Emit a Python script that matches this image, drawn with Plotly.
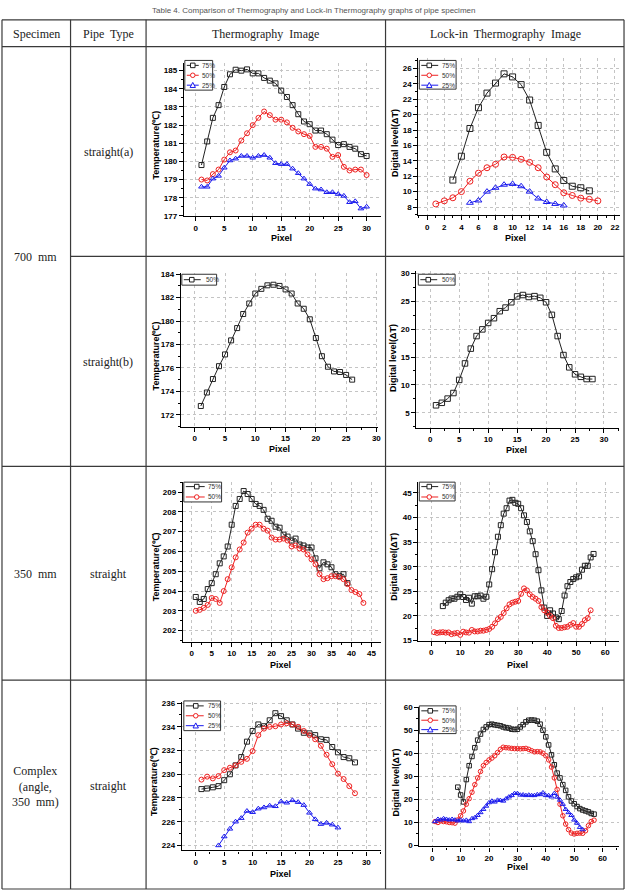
import plotly.graph_objects as go

W, H = 631, 896

# ---------------- data ----------------
# 700 mm straight(a) - thermography (temperature, deg C)
a_th_x75 = list(range(1, 31))
a_th_75 = [179.8, 181.1, 182.4, 183.1, 184.1, 184.8, 185.05, 185.0, 185.07, 184.85, 184.85, 184.6, 184.45, 184.3,
           183.9, 183.55, 183.1, 182.6, 182.2, 182.05, 181.7, 181.7, 181.5, 181.2, 180.9, 180.95, 180.8, 180.7,
           180.4, 180.3]
a_th_x50 = list(range(1, 31))
a_th_50 = [179.0, 178.95, 179.3, 179.55, 180.1, 180.5, 180.6, 181.15, 181.55, 182.0, 182.4, 182.75, 182.55, 182.3,
           182.3, 182.15, 181.85, 181.65, 181.5, 181.4, 180.8, 180.8, 180.7, 180.25, 180.35, 179.7, 179.5, 179.55,
           179.55, 179.25]
a_th_x25 = list(range(1, 31))
a_th_25 = [178.6, 178.6, 179.05, 179.2, 179.65, 180.05, 180.15, 180.3, 180.3, 180.2, 180.3, 180.35, 180.2, 179.9,
           179.85, 179.85, 179.6, 179.35, 179.05, 178.75, 178.5, 178.45, 178.3, 178.3, 178.2, 178.1, 177.75, 177.8,
           177.4, 177.5]

# 700 mm straight(a) - lock-in (digital level)
a_li_x75 = list(range(3, 20))
a_li_75 = [11.5, 14.6, 18.2, 20.9, 22.8, 24.1, 25.3, 24.9, 23.9, 21.9, 18.6, 15.1, 12.95, 11.45, 10.7, 10.5, 10.1]
a_li_x50 = list(range(1, 21))
a_li_50 = [8.4, 8.8, 9.2, 10.0, 11.35, 12.4, 13.1, 13.55, 14.5, 14.45, 14.2, 13.8, 13.1, 11.9, 10.9, 9.85, 9.5,
           9.15, 9.0, 8.8]
a_li_x25 = list(range(5, 17))
a_li_25 = [8.55, 8.85, 10.0, 10.5, 10.9, 11.0, 10.7, 10.0, 9.1, 8.65, 8.4, 8.2]

# 700 mm straight(b)
b_th_x50 = list(range(1, 27))
b_th_50 = [172.75, 173.9, 175.05, 176.15, 177.15, 178.35, 179.4, 180.6, 181.5, 182.35, 182.75, 183.05, 183.1,
           183.0, 182.7, 182.35, 181.5, 181.05, 180.15, 178.55, 177.0, 176.1, 175.7, 175.65, 175.4, 175.0]
b_li_x50 = list(range(1, 29))
b_li_50 = [6.35, 6.8, 7.55, 8.55, 10.9, 13.85, 16.5, 18.75, 19.95, 21.1, 21.95, 23.2, 23.85, 24.8, 25.85, 26.1,
           25.75, 25.9, 25.6, 24.8, 22.55, 18.75, 15.35, 13.15, 11.9, 11.45, 11.05, 11.05]

# 350 mm straight
m_th_x75 = list(range(1, 40))
m_th_75 = [203.7, 203.45, 203.6, 204.1, 204.4, 204.85, 205.4, 205.75, 206.25, 207.35, 208.3, 208.65, 209.05, 208.9,
           208.65, 208.4, 208.3, 208.1, 207.65, 207.55, 207.25, 207.2, 206.85, 206.75, 206.55, 206.65, 206.35,
           206.3, 206.2, 206.2, 205.65, 205.15, 205.45, 205.35, 205.2, 204.85, 204.75, 204.85, 204.4]
m_th_x50 = list(range(1, 44))
m_th_50 = [203.0, 203.05, 203.15, 203.3, 203.65, 203.6, 203.4, 204.0, 204.6, 205.2, 205.7, 206.1, 206.45, 206.95,
           207.15, 207.35, 207.35, 207.15, 207.05, 206.7, 206.6, 206.6, 206.65, 206.55, 206.25, 206.3, 206.15,
           206.1, 205.85, 205.6, 205.35, 204.85, 204.6, 204.65, 204.75, 204.75, 204.7, 204.6, 204.35, 204.05,
           203.95, 203.85, 203.4]
m_li_x75 = list(range(4, 57))
m_li_75 = [22.0, 22.7, 23.2, 23.55, 23.5, 23.9, 24.4, 23.85, 23.25, 23.7, 22.5, 24.0, 24.0, 24.15, 23.5, 23.9,
           26.4, 29.5, 32.95, 36.1, 38.45, 40.8, 41.9, 43.45, 43.6, 43.0, 42.8, 41.9, 40.45, 39.1, 37.2, 35.2,
           32.55, 29.3, 25.2, 21.7, 20.0, 21.15, 20.5, 19.7, 19.35, 21.0, 24.15, 26.05, 26.9, 27.5, 27.85, 28.05,
           29.4, 30.2, 30.2, 31.9, 32.6]
m_li_x50 = list(range(1, 56))
m_li_50 = [16.7, 16.55, 16.65, 16.7, 16.6, 16.65, 16.3, 16.45, 16.55, 16.15, 16.8, 16.65, 16.6, 17.15, 16.85,
           16.85, 17.0, 17.0, 17.15, 17.35, 17.8, 18.5, 19.35, 19.8, 20.6, 21.55, 22.35, 22.7, 22.9, 23.05, 24.5,
           25.6, 25.2, 24.4, 23.85, 23.5, 23.05, 21.8, 21.15, 20.7, 20.0, 19.55, 18.0, 17.55, 17.55, 17.7, 17.8,
           18.2, 18.55, 17.8, 17.8, 18.35, 19.15, 19.55, 21.15]

# Complex (angle, 350 mm)
c_th_x75 = list(range(1, 29))
c_th_75 = [228.75, 228.8, 228.9, 229.0, 229.5, 230.0, 230.75, 231.45, 232.75, 233.65, 234.2, 234.05, 234.55,
           235.15, 234.9, 234.55, 234.2, 233.85, 233.5, 233.45, 233.3, 232.95, 232.9, 232.3, 231.85, 231.45,
           231.35, 231.0]
c_th_x50 = list(range(1, 29))
c_th_50 = [229.55, 229.8, 229.65, 229.85, 230.35, 230.55, 230.75, 231.05, 231.3, 231.95, 233.3, 233.85, 234.0,
           234.05, 234.2, 234.3, 234.2, 234.0, 233.65, 233.3, 232.95, 232.4, 231.65, 230.85, 230.05, 229.6, 229.0,
           228.4]
c_th_x25 = list(range(4, 26))
c_th_25 = [224.0, 224.75, 225.4, 226.0, 226.3, 226.9, 226.8, 227.1, 227.2, 227.35, 227.3, 227.7, 227.6, 227.8,
           227.65, 227.4, 226.75, 226.2, 225.8, 225.9, 225.75, 225.5]
c_li_x75 = list(range(9, 58))
c_li_75 = [25.3, 21.9, 18.9, 28.6, 34.6, 38.6, 42.4, 45.7, 48.3, 50.3, 51.4, 52.4, 52.6, 52.3, 52.1, 51.9, 51.4,
           51.1, 50.9, 50.4, 50.3, 50.4, 51.4, 52.4, 53.6, 54.3, 54.4, 54.3, 53.9, 52.6, 50.0, 47.1, 43.6, 39.3,
           35.0, 31.4, 29.3, 26.4, 23.9, 21.1, 19.3, 18.1, 16.9, 16.0, 15.4, 15.0, 14.6, 13.9, 13.6]
c_li_x50 = list(range(1, 58))
c_li_50 = [10.4, 10.0, 10.7, 10.4, 10.3, 10.0, 9.9, 9.7, 11.1, 12.9, 15.0, 17.9, 20.3, 23.1, 26.4, 29.3, 32.1,
           34.6, 36.0, 37.1, 37.9, 38.9, 40.3, 41.7, 42.6, 42.4, 42.3, 42.1, 42.0, 42.0, 41.9, 42.0, 42.1, 41.7,
           41.1, 40.6, 40.7, 40.6, 40.0, 38.9, 37.1, 34.0, 29.3, 24.3, 17.9, 12.9, 9.3, 6.9, 5.4, 5.0, 5.3, 5.4,
           5.3, 6.4, 8.6, 10.4, 11.0]
c_li_x25 = list(range(1, 54))
c_li_25 = [10.4, 11.4, 11.1, 11.7, 11.4, 11.1, 11.4, 11.1, 10.7, 11.0, 10.7, 11.0, 10.4, 11.7, 12.1, 13.1, 14.3,
           15.7, 17.1, 18.6, 19.3, 18.9, 19.7, 19.6, 19.3, 20.3, 21.1, 21.7, 22.6, 22.6, 21.9, 22.0, 21.7, 21.9,
           21.7, 21.7, 22.1, 22.1, 22.9, 21.7, 21.7, 21.1, 22.6, 21.0, 19.7, 17.9, 15.7, 14.3, 13.1, 11.1, 9.7,
           7.9, 6.9]

labels = ["75%", "50%", "25%"]
BLACK, RED, BLUE = "#222222", "#ee2222", "#1a1aee"
SYM = {BLACK: "square-open", RED: "circle-open", BLUE: "triangle-up-open"}

# ---------------- helpers ----------------
def fx(p):
    return p / W


def fy(p):
    return 1 - p / H


fig = go.Figure()
layout = dict(width=W, height=H, margin=dict(l=0, r=0, t=0, b=0), paper_bgcolor="white",
              plot_bgcolor="white", showlegend=False)
shapes, annotations = [], []

TICKFONT = dict(family="Liberation Sans, Arial", size=8, color="black", weight="bold")
TITLEFONT = dict(family="Liberation Sans, Arial", size=9, color="black", weight="bold")

panels = [
    dict(dx=(185, 383), dy=(60, 214), xr=[-2.1, 32.45], yr=[177, 185.4], xd=5, yd=1, ms=5,
         series=[(a_th_x75, a_th_75, BLACK), (a_th_x50, a_th_50, RED), (a_th_x25, a_th_25, BLUE)],
         yt="Temperature(℃)", ytp=(157, 143), xtp=(283, 236),
         leg=dict(box=(186, 57, 214, 87), lx=(188, 200), mx=194, tx=201, rows=[62, 72, 82])),
    dict(dx=(421, 624), dy=(55, 213), xr=[-1.05, 22.6], yr=[6.98, 27.3], xd=2, yd=2, ms=6,
         series=[(a_li_x75, a_li_75, BLACK), (a_li_x50, a_li_50, RED), (a_li_x25, a_li_25, BLUE)],
         yt="Digital level(ΔT)", ytp=(397, 140), xtp=(519, 236),
         leg=dict(box=(422, 57, 459, 86), lx=(424, 441), mx=432, tx=443, rows=[62, 72, 82])),
    dict(dx=(182, 380), dy=(272, 427), xr=[-2.3, 30.2], yr=[170.98, 184.08], xd=5, yd=2, ms=5,
         series=[(b_th_x50, b_th_50, BLACK)],
         yt="Temperature(℃)", ytp=(157, 356), xtp=(281, 450),
         leg=dict(box=(183, 273, 218, 284), lx=(185, 202), mx=193, tx=205, rows=[278.5], labels=["50%"])),
    dict(dx=(419, 623), dy=(270, 428), xr=[-2.4, 32.6], yr=[2.34, 30.35], xd=5, yd=5, ms=5.5,
         series=[(b_li_x50, b_li_50, BLACK)],
         yt="Digital level(ΔT)", ytp=(396, 357), xtp=(520, 451),
         leg=dict(box=(421, 273, 458, 284), lx=(423, 440), mx=431, tx=443, rows=[278.5], labels=["50%"])),
    dict(dx=(184, 383), dy=(483, 644), xr=[-2.24, 47.3], yr=[201.45, 209.5], xd=5, yd=1, ms=5,
         series=[(m_th_x75, m_th_75, BLACK), (m_th_x50, m_th_50, RED)],
         yt="Temperature(℃)", ytp=(157, 569), xtp=(282, 668),
         leg=dict(box=(185, 483, 223, 503), lx=(187, 206), mx=198, tx=207, rows=[487.5, 498])),
    dict(dx=(421, 623), dy=(483, 643), xr=[-4.46, 64.8], yr=[15.0, 47.2], xd=10, yd=5, ms=5,
         series=[(m_li_x75, m_li_75, BLACK), (m_li_x50, m_li_50, RED)],
         yt="Digital level(ΔT)", ytp=(397, 568), xtp=(521, 668),
         leg=dict(box=(422, 483, 458, 502), lx=(424, 441), mx=432, tx=443, rows=[487.5, 498])),
    dict(dx=(183, 383), dy=(705, 855), xr=[-2.45, 32.5], yr=[223.58, 236.1], xd=5, yd=2, ms=5,
         series=[(c_th_x75, c_th_75, BLACK), (c_th_x50, c_th_50, RED), (c_th_x25, c_th_25, BLUE)],
         yt="Temperature(℃)", ytp=(155, 786), xtp=(282, 879),
         leg=dict(box=(185, 704, 222, 734), lx=(187, 205), mx=197, tx=207, rows=[709, 719, 729])),
    dict(dx=(422, 623), dy=(710, 851), xr=[-4.55, 65.8], yr=[-0.4, 60.1], xd=10, yd=10, ms=4.5,
         series=[(c_li_x75, c_li_75, BLACK), (c_li_x50, c_li_50, RED), (c_li_x25, c_li_25, BLUE)],
         yt="Digital level(ΔT)", ytp=(399, 786), xtp=(521, 872),
         leg=dict(box=(422, 709, 459, 737), lx=(424, 441), mx=433, tx=443, rows=[714, 723.5, 733])),
]


def axis(domain, rng, dtick, anchor):
    return dict(domain=domain, range=rng, anchor=anchor, dtick=dtick, tick0=0,
                showline=True, linecolor="black", linewidth=1.2, mirror=False,
                ticks="outside", ticklen=4, tickwidth=1, tickcolor="black",
                showgrid=True, gridcolor="#c4c4c4", griddash="dot", gridwidth=1,
                zeroline=False, tickfont=TICKFONT,
                minor=dict(ticks="outside", ticklen=2, tickwidth=1, tickcolor="black",
                           dtick=dtick / 2, tick0=0, showgrid=False))


for i, p in enumerate(panels, start=1):
    sx = "" if i == 1 else str(i)
    layout["xaxis" + sx] = axis([fx(p["dx"][0]), fx(p["dx"][1])], p["xr"], p["xd"], "y" + sx)
    layout["yaxis" + sx] = axis([fy(p["dy"][1]), fy(p["dy"][0])], p["yr"], p["yd"], "x" + sx)
    for xs, ys, col in p["series"]:
        fig.add_trace(go.Scatter(
            x=xs, y=ys, mode="lines+markers", xaxis="x" + sx, yaxis="y" + sx,
            line=dict(color=col, width=1),
            marker=dict(symbol=SYM[col], size=p["ms"], color=col, line=dict(width=1, color=col)),
            hoverinfo="skip"))
    annotations.append(dict(text=p["yt"], x=fx(p["ytp"][0]), y=fy(p["ytp"][1]), xref="paper", yref="paper",
                            textangle=-90, showarrow=False, font=TITLEFONT, xanchor="center", yanchor="middle"))
    annotations.append(dict(text="Pixel", x=fx(p["xtp"][0]), y=fy(p["xtp"][1]), xref="paper", yref="paper",
                            showarrow=False, font=TITLEFONT, xanchor="center", yanchor="middle"))
    lg = p["leg"]
    bx0, by0, bx1, by1 = lg["box"]
    shapes.append(dict(type="rect", xref="paper", yref="paper", x0=fx(bx0), x1=fx(bx1), y0=fy(by1), y1=fy(by0),
                       line=dict(color="#333333", width=1), fillcolor="white", layer="above"))
    labs = lg.get("labels", labels)
    for (xs, ys, col), ry, lab in zip(p["series"], lg["rows"], labs):
        shapes.append(dict(type="line", xref="paper", yref="paper", x0=fx(lg["lx"][0]), x1=fx(lg["lx"][1]),
                           y0=fy(ry), y1=fy(ry), line=dict(color=col, width=1), layer="above"))
        r = 2.3
        mx = lg["mx"]
        if col == BLACK:
            shapes.append(dict(type="rect", xref="paper", yref="paper", x0=fx(mx - r), x1=fx(mx + r),
                               y0=fy(ry + r), y1=fy(ry - r), line=dict(color=col, width=1), fillcolor="white",
                               layer="above"))
        elif col == RED:
            shapes.append(dict(type="circle", xref="paper", yref="paper", x0=fx(mx - r), x1=fx(mx + r),
                               y0=fy(ry + r), y1=fy(ry - r), line=dict(color=col, width=1), fillcolor="white",
                               layer="above"))
        else:
            path = "M {} {} L {} {} L {} {} Z".format(fx(mx - r - 0.4), fy(ry + r), fx(mx + r + 0.4), fy(ry + r),
                                                      fx(mx), fy(ry - r - 0.5))
            shapes.append(dict(type="path", xref="paper", yref="paper", path=path,
                               line=dict(color=col, width=1), fillcolor="white", layer="above"))
        annotations.append(dict(text=lab, x=fx(lg["tx"]), y=fy(ry), xref="paper", yref="paper",
                                showarrow=False, xanchor="left", yanchor="middle",
                                font=dict(family="Liberation Sans, Arial", size=6.5, color="#333333")))

# ---------------- table frame ----------------
LC = "#3a3a3a"


def hline(y, x0, x1, w=1.2):
    shapes.append(dict(type="line", xref="paper", yref="paper", x0=fx(x0), x1=fx(x1), y0=fy(y), y1=fy(y),
                       line=dict(color=LC, width=w)))


def vline(x, y0, y1, w=1.2):
    shapes.append(dict(type="line", xref="paper", yref="paper", x0=fx(x), x1=fx(x), y0=fy(y0), y1=fy(y1),
                       line=dict(color=LC, width=w)))


L, R, T, B = 2, 628, 16, 894
hline(T, L, R)
hline(43, L, R)
hline(255, 71, R)
hline(467, L, R)
hline(683, L, R)
hline(B, L, R)
vline(L, T, B)
vline(71, T, B)
vline(147, T, B)
vline(388, T, B)
vline(R, T, B)

SERIF = dict(family="Liberation Serif, Times New Roman", size=12, color="#222222")
NB = "\u00a0"
cell_texts = [
    ("Specimen", 37, 30), ("Pipe" + NB + " Type", 109, 30), ("Thermography" + NB + " Image", 267, 30),
    ("Lock-in" + NB + " Thermography" + NB + " Image", 509, 30),
    ("700" + NB + " mm", 36, 256), ("straight(a)", 109, 149), ("straight(b)", 109, 362),
    ("350" + NB + " mm", 36, 576), ("straight", 109, 576),
    ("Complex<br>(angle,<br>350" + NB + " mm)", 36, 790), ("straight", 109, 790),
]
for t, x, y in cell_texts:
    annotations.append(dict(text=t, x=fx(x), y=fy(y), xref="paper", yref="paper", showarrow=False,
                            xanchor="center", yanchor="middle", font=SERIF))

# caption above the table
annotations.append(dict(text="Table 4. Comparison of Thermography and Lock-in Thermography graphs of pipe specimen",
                        x=fx(315), y=fy(7), xref="paper", yref="paper", showarrow=False,
                        xanchor="center", yanchor="middle",
                        font=dict(family="Liberation Sans, Arial", size=8, color="#555555")))

layout["shapes"] = shapes
layout["annotations"] = annotations
fig.update_layout(**layout)
fig.write_html("out.html")
